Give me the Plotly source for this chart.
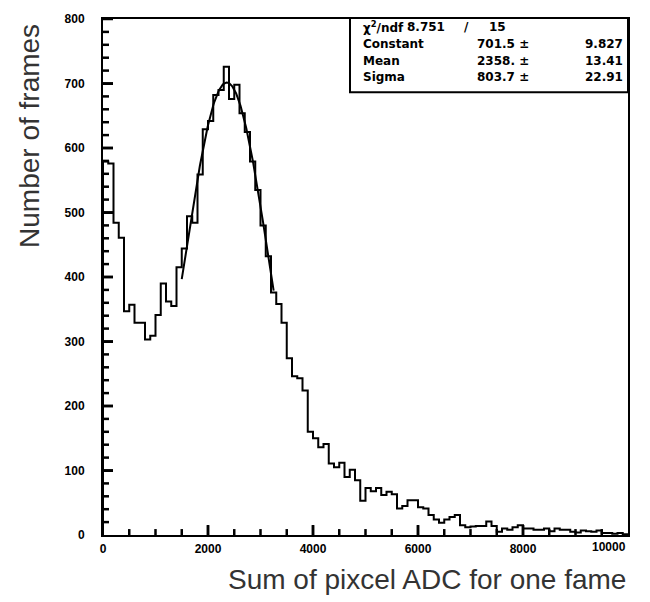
import numpy as np
import plotly.graph_objects as go

# ---- data ----
bin_width = 100
counts = [579, 576, 484, 461, 347, 357, 329, 329, 303, 309,
          341, 390, 362, 355, 415, 444, 494, 484, 559, 629,
          642, 682, 690, 726, 676, 698, 654, 625, 579, 535,
          480, 432, 376, 358, 329, 274, 246, 243, 224, 160,
          150, 136, 141, 111, 105, 112, 90, 101, 85, 53,
          73, 68, 73, 62, 67, 63, 41, 45, 54, 54,
          43, 41, 31, 24, 19, 24, 28, 31, 15, 12,
          13, 14, 14, 21, 14, 5, 10, 8, 12, 15,
          10, 10, 8, 8, 10, 6, 10, 8, 8, 5,
          4, 7, 6, 5, 7, 3, 3, 2, 3, 1]
fit_const, fit_mean, fit_sigma = 701.5, 2358.0, 803.7
fit_range = (1500, 3250)
x_ticks = [0, 2000, 4000, 6000, 8000]
x_minor = list(range(500, 10000, 500))
y_ticks = [0, 100, 200, 300, 400, 500, 600, 700, 800]
y_minor = list(range(20, 800, 20))

edges = [i * bin_width for i in range(len(counts) + 1)]
hx = [0] + edges
hy = [0] + counts + [counts[-1]]

fx = np.linspace(fit_range[0], fit_range[1], 200)
fy = fit_const * np.exp(-0.5 * ((fx - fit_mean) / fit_sigma) ** 2)

L, R, T, B = 103, 22, 13, 67
W, H = 650, 602
pw, ph = W - L - R, H - T - B
XR, YR = (0, 10000), (0, 800)
ux = (XR[1] - XR[0]) / pw   # data units per pixel along x
uy = (YR[1] - YR[0]) / ph   # data units per pixel along y

# tick marks as line segments inside the frame
tx, ty = [], []
for v in x_ticks[1:] + x_minor:
    ln = 10 if v in x_ticks else 6
    tx += [v, v, None]
    ty += [0, ln * uy, None]
for v in y_ticks[1:] + y_minor:
    ln = 10 if v in y_ticks else 6
    tx += [0, ln * ux, None]
    ty += [v, v, None]

fig = go.Figure()
fig.add_trace(go.Scatter(x=hx, y=hy, mode="lines", line=dict(shape="hv", color="black", width=2),
                         hoverinfo="skip", showlegend=False))
fig.add_trace(go.Scatter(x=fx, y=fy, mode="lines", line=dict(color="black", width=2),
                         hoverinfo="skip", showlegend=False))
fig.add_trace(go.Scatter(x=tx, y=ty, mode="lines", line=dict(color="black", width=2.5),
                         connectgaps=False, hoverinfo="skip", showlegend=False))

def px(x):
    return (x - L) / pw

def py(y):
    return (H - B - y) / ph

tickfont = dict(family="Liberation Sans", size=12, color="black", weight="bold")
fig.update_layout(
    width=W, height=H,
    margin=dict(l=L, r=R, t=T, b=B),
    paper_bgcolor="white", plot_bgcolor="white",
    showlegend=False,
    xaxis=dict(range=list(XR), tickmode="array", tickvals=x_ticks, ticks="inside", ticklen=10,
               tickwidth=2, tickcolor="black",
               showline=True, linecolor="black", linewidth=2,
               mirror=True, showgrid=False, zeroline=False, tickfont=tickfont,
               ticklabelstandoff=2),
    yaxis=dict(range=list(YR), tickmode="array", tickvals=y_ticks, ticks="inside", ticklen=10,
               tickwidth=2, tickcolor="black",
               showline=True, linecolor="black", linewidth=2,
               mirror=True, showgrid=False, zeroline=False, tickfont=tickfont,
               ticklabelstandoff=14),
)

# "10000" label aligned to right edge
fig.add_annotation(x=10000, y=0, xref="x", yref="y", text="<b>10000</b>", showarrow=False,
                   xanchor="right", yanchor="top", yshift=-3,
                   font=dict(family="Liberation Sans", size=12, color="black"))

# axis titles
fig.add_annotation(x=px(628), y=py(580), xref="paper", yref="paper", text="Sum of pixcel ADC for one fame",
                   showarrow=False, xanchor="right", yanchor="middle",
                   font=dict(family="Liberation Sans", size=28, color="#333333"))
fig.add_annotation(x=px(30), y=py(16), xref="paper", yref="paper", text="Number of frames",
                   showarrow=False, xanchor="center", yanchor="top", textangle=-90,
                   font=dict(family="Liberation Sans", size=28, color="#333333"))

# stats box
fig.add_shape(type="rect", xref="paper", yref="paper", x0=px(350), x1=1.0, y0=py(87), y1=py(12),
              fillcolor="white", line=dict(color="black", width=2), layer="above")
sfont = dict(family="DejaVu Sans", size=12, color="black")
rows = [("Constant", "701.5 ±", "9.827"), ("Mean", "2358. ±", "13.41"), ("Sigma", "803.7 ±", "22.91")]
row_y = [38, 55, 72]
fig.add_annotation(x=px(361), y=py(21), xref="paper", yref="paper", text="<b>χ<sup>2</sup>/ndf</b>",
                   showarrow=False, xanchor="left", yanchor="middle", font=sfont)
fig.add_annotation(x=px(405), y=py(21), xref="paper", yref="paper", text="<b>8.751</b>",
                   showarrow=False, xanchor="left", yanchor="middle", font=sfont)
fig.add_annotation(x=px(466), y=py(21), xref="paper", yref="paper", text="<b>/</b>",
                   showarrow=False, xanchor="center", yanchor="middle", font=sfont)
fig.add_annotation(x=px(508), y=py(21), xref="paper", yref="paper", text="<b>15</b>",
                   showarrow=False, xanchor="right", yanchor="middle", font=sfont)
for (lab, val, err), yy in zip(rows, row_y):
    fig.add_annotation(x=px(361), y=py(yy), xref="paper", yref="paper", text=f"<b>{lab}</b>",
                       showarrow=False, xanchor="left", yanchor="middle", font=sfont)
    fig.add_annotation(x=px(531), y=py(yy), xref="paper", yref="paper", text=f"<b>{val}</b>",
                       showarrow=False, xanchor="right", yanchor="middle", font=sfont)
    fig.add_annotation(x=px(625), y=py(yy), xref="paper", yref="paper", text=f"<b>{err}</b>",
                       showarrow=False, xanchor="right", yanchor="middle", font=sfont)

fig.write_html("out.html")
